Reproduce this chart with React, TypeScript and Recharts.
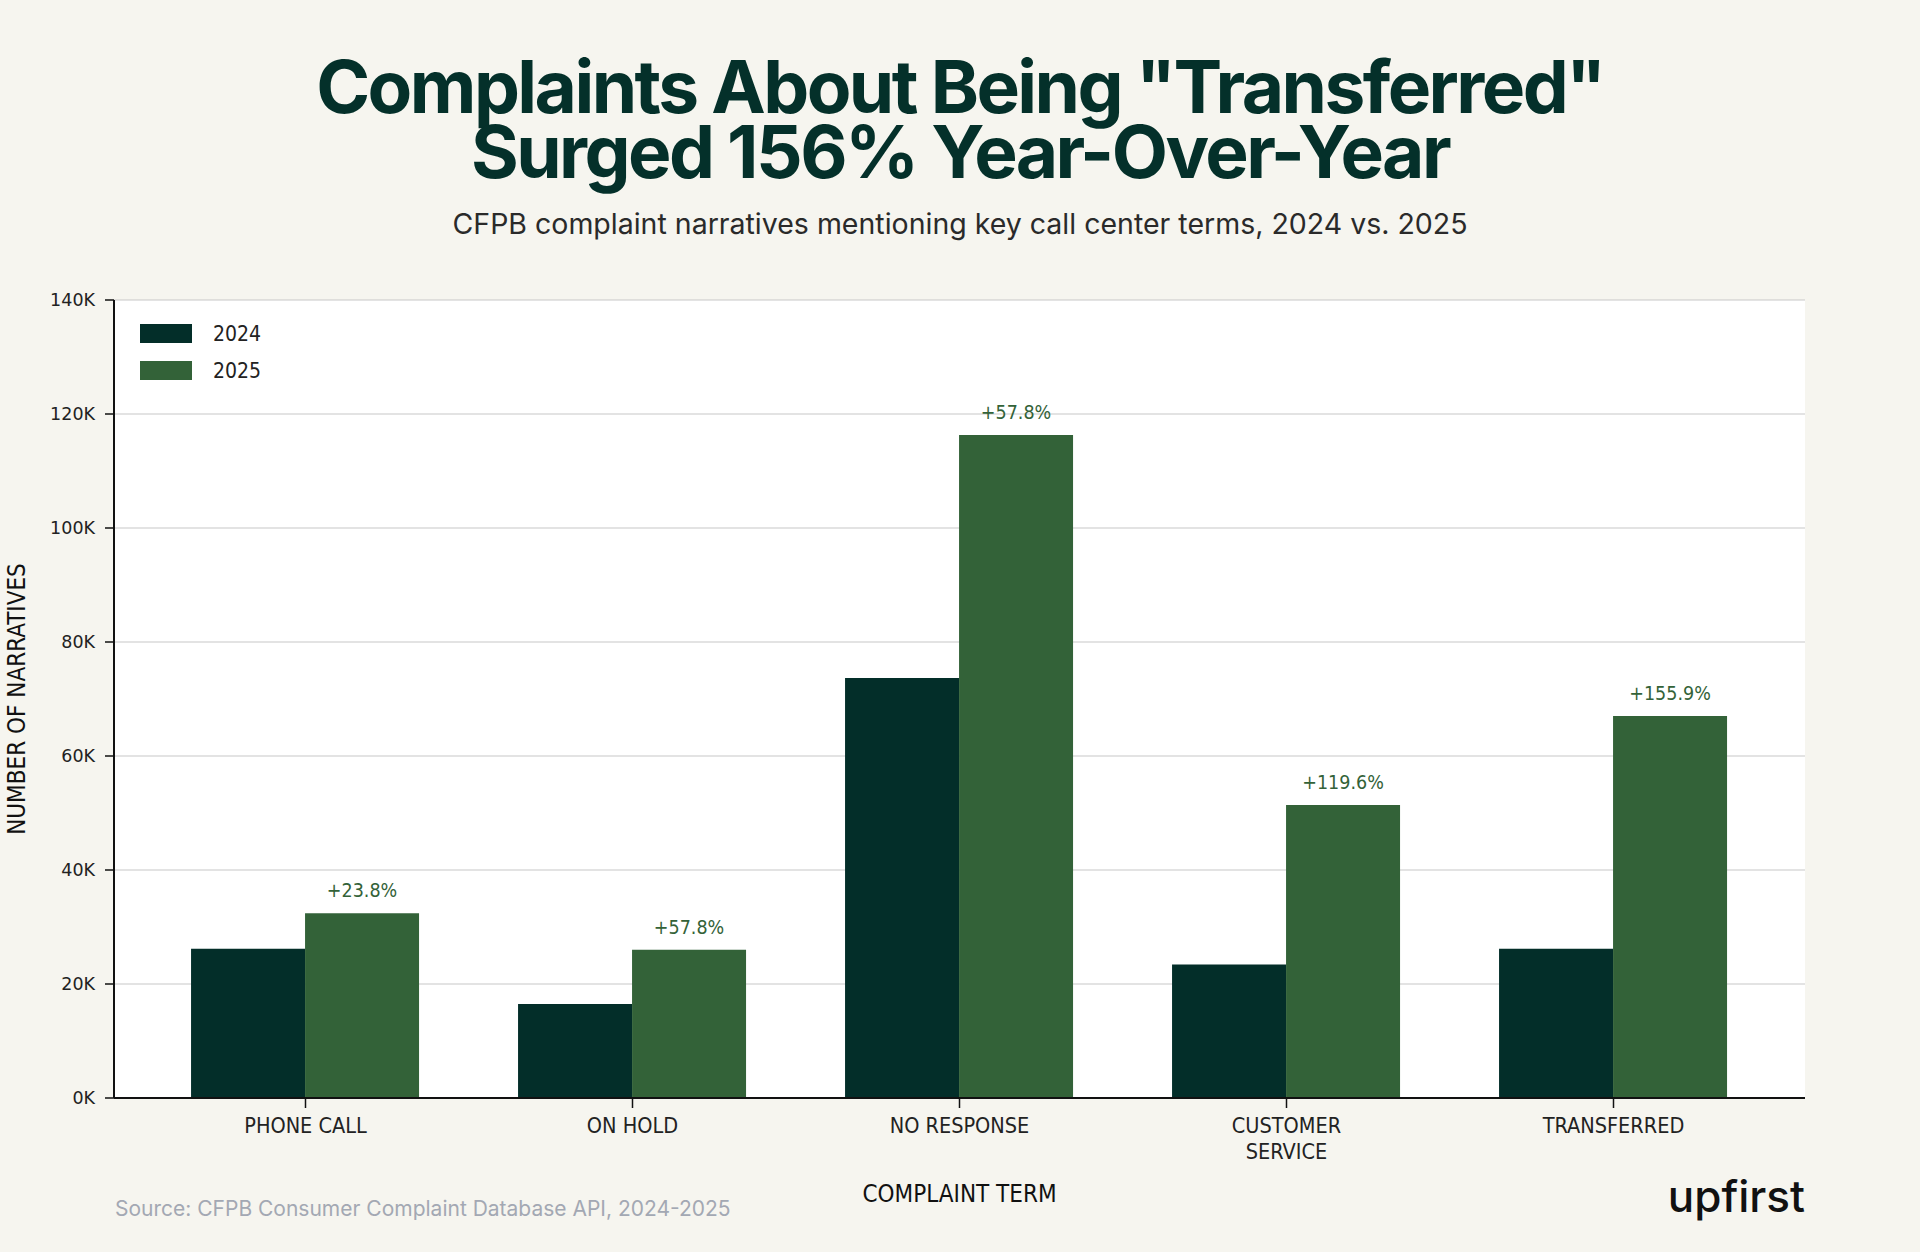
import React from "react";
import {
  BarChart,
  Bar,
  XAxis,
  YAxis,
  CartesianGrid,
  Legend,
  LabelList,
  Label,
} from "recharts";

const terms = ["PHONE CALL", "ON HOLD", "NO RESPONSE", "CUSTOMER SERVICE", "TRANSFERRED"];
const narratives2024 = [26200, 16500, 73700, 23400, 26200];
const narratives2025 = [32400, 26000, 116300, 51400, 67000];
const yoyChange = ["+23.8%", "+57.8%", "+57.8%", "+119.6%", "+155.9%"];
const yTicks = [0, 20000, 40000, 60000, 80000, 100000, 120000, 140000];

const DARK = "#032e29";
const GREEN = "#336238";
const BG = "#f6f5ef";
const NARROW = '"Liberation Sans Narrow", "DejaVu Sans Condensed", sans-serif';

const data = terms.map((term, i) => ({
  term,
  y2024: narratives2024[i],
  y2025: narratives2025[i],
  change: yoyChange[i],
}));

// category labels can span two lines ("CUSTOMER SERVICE")
function TermTick(props: any) {
  const { x, y, payload } = props;
  const lines: string[] =
    payload.value === "CUSTOMER SERVICE" ? payload.value.split(" ") : [payload.value];
  return (
    <text x={x} y={y} textAnchor="middle" fontFamily={NARROW} fontSize={21.5} fill="#222">
      {lines.map((l, i) => (
        <tspan key={i} x={x} dy={i === 0 ? 25 : 26}>
          {l}
        </tspan>
      ))}
    </text>
  );
}

function ChangeLabel(props: any) {
  const { x, y, width, value } = props;
  return (
    <text
      x={x + width / 2}
      y={y - 16}
      textAnchor="middle"
      fontFamily={NARROW}
      fontSize={19.5}
      fill={GREEN}
    >
      {value}
    </text>
  );
}

function YearLegend(props: any) {
  const items = props.payload || [];
  return (
    <div style={{ display: "flex", flexDirection: "column", gap: 18 }}>
      {items.map((it: any) => (
        <div key={it.value} style={{ display: "flex", alignItems: "center", height: 19 }}>
          <span style={{ width: 52, height: 19, background: it.color, display: "inline-block" }} />
          <span style={{ marginLeft: 21, fontFamily: NARROW, fontSize: 21, color: "#222" }}>
            {it.value}
          </span>
        </div>
      ))}
    </div>
  );
}

export default function App() {
  return (
    <div
      style={{
        position: "absolute",
        left: 0,
        top: 0,
        width: 1920,
        height: 1252,
        background: BG,
        overflow: "hidden",
        fontFamily: "Inter, sans-serif",
      }}
    >
      <div
        style={{
          position: "absolute",
          left: 0,
          width: 1920,
          top: 54,
          textAlign: "center",
          fontSize: 73,
          lineHeight: "65px",
          fontWeight: 700,
          letterSpacing: "-0.035em",
          color: "#04302a",
        }}
      >
        <div>Complaints About Being "Transferred"</div>
        <div>Surged 156% Year-Over-Year</div>
      </div>
      <div
        style={{
          position: "absolute",
          left: 0,
          width: 1920,
          top: 208,
          textAlign: "center",
          fontSize: 28.5,
          lineHeight: "32px",
          color: "#2a2a2a",
        }}
      >
        CFPB complaint narratives mentioning key call center terms, 2024 vs. 2025
      </div>

      <div style={{ position: "absolute", left: 0, top: 0 }}>
        <BarChart
          width={1920}
          height={1252}
          data={data}
          margin={{ top: 300, right: 115, bottom: 94, left: 34 }}
          barGap={0}
          barCategoryGap="15%"
        >
          <CartesianGrid
            vertical={false}
            stroke="#c8c8c8"
            strokeWidth={1.2}
            fill="#ffffff"
            fillOpacity={1}
          />
          <XAxis
            dataKey="term"
            height={60}
            padding={{ left: 28, right: 28 }}
            tick={<TermTick />}
            tickSize={10}
            tickMargin={0}
            axisLine={{ stroke: "#111", strokeWidth: 2 }}
            tickLine={{ stroke: "#111", strokeWidth: 1.5 }}
            interval={0}
          >
            <Label
              content={(p: any) => {
                const vb = p.viewBox;
                return (
                  <text
                    x={vb.x + vb.width / 2}
                    y={vb.y + 104}
                    textAnchor="middle"
                    fontFamily={NARROW}
                    fontSize={24}
                    fill="#111"
                  >
                    COMPLAINT TERM
                  </text>
                );
              }}
            />
          </XAxis>
          <YAxis
            width={80}
            domain={[0, 140000]}
            ticks={yTicks}
            tickFormatter={(v: number) => `${v / 1000}K`}
            tick={{ fontFamily: '"DejaVu Sans", sans-serif', fontSize: 17.5, fill: "#222" }}
            tickSize={9}
            tickMargin={10}
            axisLine={{ stroke: "#111", strokeWidth: 2 }}
            tickLine={{ stroke: "#111", strokeWidth: 1.5 }}
          >
            <Label
              content={(p: any) => {
                const vb = p.viewBox;
                const cx = 25;
                const cy = vb.y + vb.height / 2;
                return (
                  <text
                    x={cx}
                    y={cy}
                    transform={`rotate(-90, ${cx}, ${cy})`}
                    textAnchor="middle"
                    fontFamily={NARROW}
                    fontSize={24}
                    fill="#111"
                  >
                    NUMBER OF NARRATIVES
                  </text>
                );
              }}
            />
          </YAxis>
          {/* horizontal + middle + center keeps the legend from reserving plot space */}
          <Legend
            layout="horizontal"
            verticalAlign="middle"
            align="center"
            content={<YearLegend />}
            wrapperStyle={{ position: "absolute", left: 140, top: 324, width: 200 }}
          />
          <Bar dataKey="y2024" name="2024" fill={DARK} isAnimationActive={false} />
          <Bar dataKey="y2025" name="2025" fill={GREEN} isAnimationActive={false}>
            <LabelList dataKey="change" content={<ChangeLabel />} />
          </Bar>
        </BarChart>
      </div>

      <div
        style={{
          position: "absolute",
          left: 115,
          top: 1197,
          fontSize: 21,
          lineHeight: "24px",
          color: "#a3a8b3",
        }}
      >
        Source: CFPB Consumer Complaint Database API, 2024-2025
      </div>
      <div
        style={{
          position: "absolute",
          right: 1920 - 1805,
          top: 1172,
          fontSize: 44,
          lineHeight: "48px",
          fontWeight: 500,
          letterSpacing: "0em",
          color: "#111",
        }}
      >
        upfirst
      </div>
    </div>
  );
}
